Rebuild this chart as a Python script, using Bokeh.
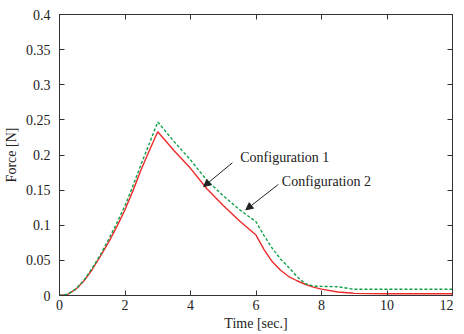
from bokeh.plotting import figure
from bokeh.models import LinearAxis, FixedTicker, Range1d, Arrow, NormalHead, Label
from bokeh.embed import file_html
from bokeh.resources import INLINE

# Data
time = [0, 0.25, 0.5, 0.75, 1.0, 1.25, 1.5, 1.75, 2.0, 2.25, 2.5, 2.75, 3.0,
        3.5, 4.0, 4.5, 5.0, 5.5, 6.0, 6.25, 6.5, 6.75, 7.0, 7.25, 7.5, 7.75,
        8.0, 8.5, 8.9, 9.0, 10.0, 11.0, 12.0]
config1 = [0, 0.0015, 0.009, 0.021, 0.037, 0.056, 0.076, 0.098, 0.122, 0.150, 0.180, 0.207, 0.233,
           0.206, 0.181, 0.152, 0.128, 0.106, 0.086, 0.065, 0.048, 0.036, 0.027, 0.021, 0.016, 0.012,
           0.009, 0.005, 0.0035, 0.003, 0.0025, 0.0025, 0.0025]
config2 = [0, 0.0017, 0.0095, 0.022, 0.039, 0.058, 0.080, 0.103, 0.128, 0.157, 0.188, 0.217, 0.247,
           0.219, 0.193, 0.164, 0.142, 0.122, 0.105, 0.085, 0.067, 0.052, 0.040, 0.027, 0.017, 0.0135,
           0.013, 0.0125, 0.0095, 0.009, 0.009, 0.009, 0.009]

x_ticks = [0, 2, 4, 6, 8, 10, 12]
x_tick_labels = ["0", "2", "4", "6", "8", "10", "12"]
y_ticks = [0, 0.05, 0.1, 0.15, 0.2, 0.25, 0.3, 0.35, 0.4]
y_tick_labels = ["0", "0.05", "0.1", "0.15", "0.2", "0.25", "0.3", "0.35", "0.4"]

series_names = ["Configuration 1", "Configuration 2"]

FONT = "Liberation Serif"
TXT = "#222222"
AX = "#333333"

p = figure(frame_width=393, frame_height=281, output_backend="svg", toolbar_location=None,
           x_range=Range1d(0, 12), y_range=Range1d(0, 0.4),
           min_border_left=57, min_border_top=14, min_border_right=1, min_border_bottom=0)
p.grid.visible = False
p.outline_line_color = AX
p.background_fill_color = "white"
p.border_fill_color = "white"

def style(ax):
    ax.axis_line_color = AX
    ax.major_tick_line_color = AX
    ax.minor_tick_line_color = None
    ax.major_tick_in = 5
    ax.major_tick_out = 0
    ax.major_label_text_font = FONT
    ax.major_label_text_color = TXT
    ax.major_label_text_font_size = "14px"
    ax.axis_label_text_font = FONT
    ax.axis_label_text_color = TXT
    ax.axis_label_text_font_size = "14px"
    ax.axis_label_text_font_style = "normal"

xa = p.xaxis[0]
xa.ticker = FixedTicker(ticks=x_ticks)
xa.major_label_overrides = dict(zip(x_ticks, x_tick_labels))
xa.axis_label = "Time [sec.]"
style(xa)
xa.major_label_standoff = 4
xa.axis_label_standoff = 3

ya = p.yaxis[0]
ya.ticker = FixedTicker(ticks=y_ticks)
ya.major_label_overrides = dict(zip(y_ticks, y_tick_labels))
ya.axis_label = "Force [N]"
style(ya)
ya.major_label_standoff = 9
ya.axis_label_standoff = 4

top = LinearAxis(ticker=FixedTicker(ticks=x_ticks), major_label_overrides={t: "" for t in x_ticks})
style(top)
top.major_label_standoff = 0
p.add_layout(top, "above")
right = LinearAxis(ticker=FixedTicker(ticks=y_ticks), major_label_overrides={t: "" for t in y_ticks})
style(right)
right.major_label_standoff = 0
p.add_layout(right, "right")

p.line(time, config1, line_color="#ee2b2b", line_width=1.4)
p.line(time, config2, line_color="#10a048", line_width=1.4, line_dash="3 2")

# annotations
p.add_layout(Arrow(end=NormalHead(size=7, fill_color="#222222", line_color="#222222"),
                   x_start=5.28, y_start=0.189, x_end=4.40, y_end=0.155,
                   line_color="#222222", line_width=1))
p.add_layout(Arrow(end=NormalHead(size=7, fill_color="#222222", line_color="#222222"),
                   x_start=6.68, y_start=0.158, x_end=5.69, y_end=0.122,
                   line_color="#222222", line_width=1))
p.add_layout(Label(x=5.52, y=0.196, text=series_names[0], text_font=FONT, text_font_size="14px",
                   text_color=TXT, text_baseline="middle"))
p.add_layout(Label(x=6.79, y=0.162, text=series_names[1], text_font=FONT, text_font_size="14px",
                   text_color=TXT, text_baseline="middle"))

open("out.html", "w").write(file_html(p, INLINE))
